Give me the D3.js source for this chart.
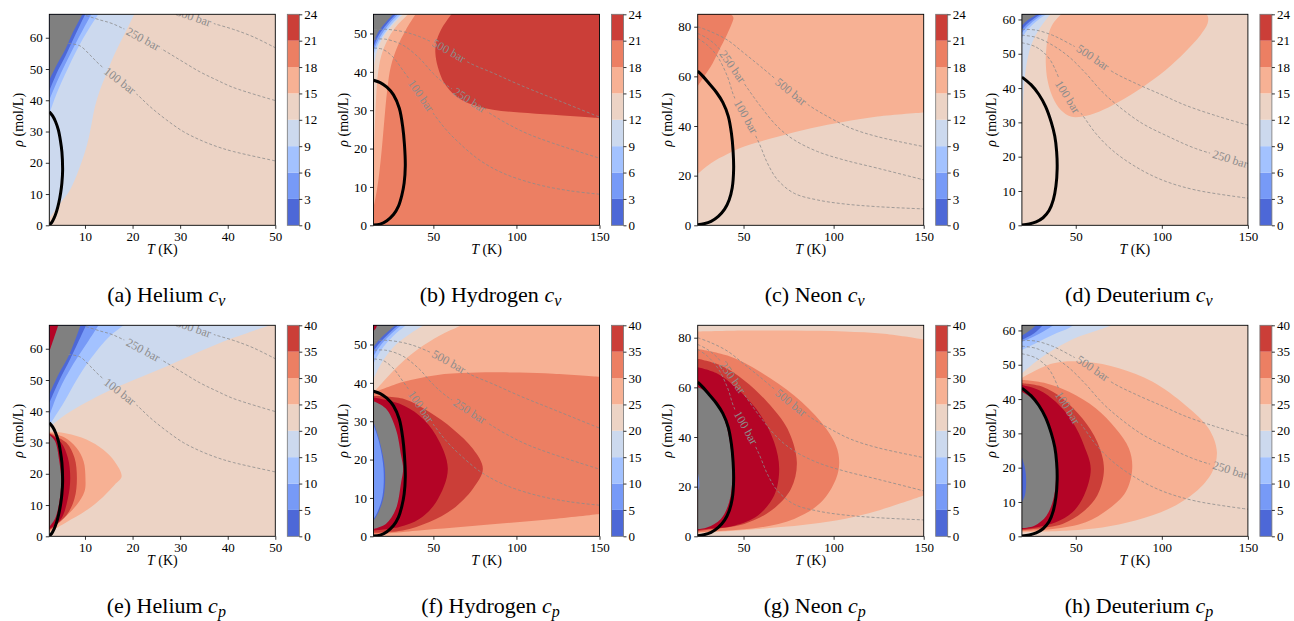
<!DOCTYPE html>
<html>
<head>
<meta charset="utf-8">
<script src="https://cdn.jsdelivr.net/npm/d3@7"></script>
<style>
  body { margin: 0; background: #fff; }
  svg text { font-family: "Liberation Serif", "Times New Roman", serif; }
</style>
</head>
<body>
<svg id="fig" width="1294" height="621"></svg>
<script>
// ---------------- data ----------------
const levelsCv = [0, 3, 6, 9, 12, 15, 18, 21, 24];
const levelsCp = [0, 5, 10, 15, 20, 25, 30, 35, 40];

// Moreland cool-warm colormap table: [t, r, g, b]
const coolwarmStops = [
  [0.0,59,76,192],[0.03125,68,90,204],[0.0625,77,104,215],[0.09375,87,117,225],
  [0.125,98,130,234],[0.15625,108,142,241],[0.1875,119,154,247],[0.21875,130,165,251],
  [0.25,141,176,254],[0.28125,152,185,255],[0.3125,163,194,255],[0.34375,174,201,253],
  [0.375,184,208,249],[0.40625,194,213,244],[0.4375,204,217,238],[0.46875,213,219,230],
  [0.5,221,221,221],[0.53125,229,216,209],[0.5625,236,211,197],[0.59375,241,204,185],
  [0.625,245,196,173],[0.65625,247,187,160],[0.6875,247,177,148],[0.71875,247,166,135],
  [0.75,244,154,123],[0.78125,241,141,111],[0.8125,236,127,99],[0.84375,229,112,88],
  [0.875,222,96,77],[0.90625,213,80,66],[0.9375,203,62,56],[0.96875,192,40,47],[1.0,180,4,38]
];

const gasNames = ["Helium", "Hydrogen", "Neon", "Deuterium"];
const captionLetters = [["a", "b", "c", "d"], ["e", "f", "g", "h"]];
const propertySubscripts = ["v", "p"];
const tempDomains = [[2.5, 50], [13.96, 150], [24.56, 150], [18.72, 150]];
const densityDomains = [[0, 67.5], [0, 55], [0, 85], [0, 61.5]];
const tempTicks = [[10, 20, 30, 40, 50], [50, 100, 150], [50, 100, 150], [50, 100, 150]];
const densityTicks = [[0, 10, 20, 30, 40, 50, 60], [0, 10, 20, 30, 40, 50], [0, 20, 40, 60, 80], [0, 10, 20, 30, 40, 50, 60]];

// band index: 0..7 = contour bins, -1 = grey (no data), 8 = above top level
const cvBaseBand = [4, 6, 4, 4];
const cpBaseBand = [4, 5, 4, 4];

// saturation domes [T (K), rho (mol/L)]
const heliumDome = [[2.5,0.2],[3.0,0.9],[3.5,2.3],[4.0,4.3],[4.5,7.2],[4.9,10.5],[5.15,13.6],[5.3,17.5],[5.15,23.5],[4.85,27],[4.4,30.5],[3.8,33.2],[3.2,35],[2.5,36.3]];
const hydrogenDome = [[13.96,0.05],[18,0.3],[22,1.2],[26,2.8],[29,5],[31,7.8],[32.4,11],[33.1,15.5],[32.6,21],[31.6,25.5],[29.5,30.5],[26,34],[22,36],[18,37.2],[13.96,37.8]];
const neonDome = [[24.56,0.2],[28,0.6],[32,1.6],[36,3.6],[39.5,6.5],[42,10.2],[43.7,15],[44.5,22.5],[44.2,30],[43.3,37],[41.5,44],[38.5,49.5],[35,53.5],[31,57],[27.5,60],[24.56,62.1]];
const deuteriumDome = [[18.72,0.1],[23,0.4],[27,1],[31,2.2],[34.5,4.3],[37,7.5],[38.5,11.5],[39.2,16.5],[38.9,21.5],[37.8,26],[35.8,30],[32.5,34.6],[28.5,38.2],[24,41],[18.72,43.2]];

// isobars: label, label position (T), points [T, rho]
const heliumIsobars = [
  {label: "100 bar", at: 17.3, pts: [[6.5,58.2],[8.95,57.4],[11.05,54.5],[13.15,51.3],[17.3,46.3],[20.85,42.0],[23.65,38.0],[27.15,33.7],[30.65,30.0],[34.2,27.3],[37.7,25.2],[41.2,23.6],[50,20.6]]},
  {label: "250 bar", at: 22.2, pts: [[10.2,67.1],[13.15,65.7],[15.95,64.4],[22.2,59.6],[26.45,56.1],[29.95,52.9],[34.15,49.1],[37.65,46.5],[41.15,44.1],[50,39.9]]},
  {label: "500 bar", at: 32.8, pts: [[27,70.2],[30,68.2],[32.8,66.6],[36.95,64.6],[41.15,62.7],[45.35,60.3],[50,56.8]]}
];
const hydrogenIsobars = [
  {label: "100 bar", at: 42.5, pts: [[14.3,46.2],[19.4,45.9],[25.4,44],[31.5,40.5],[42.5,33.8],[50.6,28.8],[57.7,24.9],[65.7,21.4],[77.8,17],[91.9,13.6],[112,10.7],[132,9.0],[150,8.1]]},
  {label: "250 bar", at: 71.8, pts: [[14.3,48.5],[21.4,48.5],[31.5,47],[41.5,43.6],[49.6,39.7],[57.7,36.6],[71.8,32.6],[83.9,29.2],[94,26.6],[106,24],[122,21.4],[150,17.5]]},
  {label: "500 bar", at: 59.3, pts: [[14.3,51],[21.4,51.1],[31.5,50.5],[41.5,49.2],[59.3,45.5],[71.8,42.3],[85.9,39.7],[102,36.6],[122,33.1],[150,28.2]]}
];
const neonIsobars = [
  {label: "500 bar", at: 76.3, pts: [[24.56,80],[31.9,78],[41.1,74.6],[50.4,69.3],[59.6,63.9],[76.3,53.8],[87.4,47.8],[98.5,43.1],[109.6,39.1],[124.4,35.7],[150,31.7]]},
  {label: "250 bar", at: 43.9, pts: [[24.56,77.3],[29.9,75.3],[35.6,71.9],[43.9,63.9],[52.2,55.2],[59.6,47.8],[68.9,39.7],[78.1,34.4],[91.1,29.7],[105.9,26.3],[124.4,23],[150,18.3]]},
  {label: "100 bar", at: 51.3, pts: [[24.56,75.3],[29.9,72.6],[35.6,67.9],[41.1,59.9],[44.8,51.8],[51.3,43.8],[58.7,33],[63.3,25],[68.9,18.3],[78.1,12.9],[91.1,10.2],[105.9,8.6],[124.4,7.5],[150,6.6]]}
];
const deuteriumIsobars = [
  {label: "500 bar", at: 60, pts: [[18.72,57.1],[26.8,56.9],[36.5,55.4],[46.1,53],[60,48.9],[71.2,44.8],[84.7,41.4],[100.2,38],[113.7,35],[133,31.7],[150,29.2]]},
  {label: "250 bar", at: 139.8, pts: [[18.72,55.4],[26.8,54.8],[36.5,52.5],[46.1,49.1],[55.8,44.3],[65.4,38.9],[75.1,34.6],[88.6,29.7],[104.1,25.8],[119.5,22.4],[139.8,19.3],[150,17.6]]},
  {label: "100 bar", at: 45.2, pts: [[18.72,53.2],[26.8,52],[34.6,48.6],[45.2,37.5],[53.9,32.1],[61.6,26.8],[71.2,21.9],[84.7,17.1],[100.2,13.2],[119.5,10.3],[150,7.9]]}
];

// filled contour bands: each region is a list of boundary pieces [T, rho]
const heliumCvRegions = [
  {band: 3, pieces: [[[2.5,2.2],[4.75,7.0],[6.85,11.3],[8.95,18.8],[10.5,26.2],[11.4,32.6],[12.1,38.0],[13.15,43.3],[14.55,48.6],[16.3,55.0],[18.4,61.4],[20.5,68]], [[2.5,68]]]},
  {band: 2, pieces: [[[2.5,35.5],[4.0,42],[6.5,50.5],[9.5,59.5],[13,68]], [[2.5,68]]]},
  {band: 1, pieces: [[[2.5,40],[4.0,45.5],[6.0,52],[8.5,59.5],[11.5,68]], [[2.5,68]]]},
  {band: 0, pieces: [[[2.5,43],[4.0,48.5],[6.0,54.5],[8.0,61],[10.2,68]], [[2.5,68]]]},
  {band: -1, pieces: [[[2.5,46.5],[4.05,51.3],[5.8,56.1],[7.2,60.9],[9.65,68]], [[2.5,68]]]}
];
const hydrogenCvRegions = [
  {band: 7, pieces: [[[61.7,55.5],[54.6,51.0],[51.6,47.5],[51.2,44.9],[52.6,41.4],[56.65,37.0],[63.7,33.6],[73.8,31.4],[85.9,30.1],[102,29.4],[122.2,28.8],[150,27.9]], [[150,55.5]]]},
  {band: 5, pieces: [[[13.96,4.5],[16.3,10],[18.3,17],[19.8,24],[21,30],[22.4,36],[24.4,41.4],[28.4,46.6],[33.5,51],[40,55.5]], [[13.96,55.5]]]},
  {band: 4, pieces: [[[13.96,17],[14.8,26],[15.5,33],[16.5,39],[18.5,44],[22,48],[27,51.5],[36,55.5]], [[13.96,55.5]]]},
  {band: 3, pieces: [[[13.96,40.5],[15.5,44.5],[19,48.5],[25,52],[33,55.5]], [[13.96,55.5]]]},
  {band: 2, pieces: [[[13.96,44.5],[18,48.3],[24,52],[31.5,55.5]], [[13.96,55.5]]]},
  {band: 1, pieces: [[[13.96,45.5],[17.5,48.8],[23,52.3],[30,55.5]], [[13.96,55.5]]]},
  {band: 0, pieces: [[[13.96,46.5],[17,49.5],[22,52.5],[28.5,55.5]], [[13.96,55.5]]]},
  {band: -1, pieces: [[[13.96,47.6],[17,50.5],[21.5,53],[27,55.5]], [[13.96,55.5]]]}
];
const neonCvRegions = [
  {band: 5, pieces: [[[24.56,20.7],[31.9,25],[41.1,28.7],[50.4,31.7],[68.9,35.7],[87.4,39.1],[105.9,41.7],[124.4,43.8],[150,45.4]], [[150,86]], [[24.56,86]]]},
  {band: 6, pieces: [[[24.56,56.1],[28.1,59.9],[32.8,65.2],[37.4,71.9],[41.1,77.3],[43.5,81.3],[44.4,83.6],[43.6,84.6],[41.5,85.5]], [[24.56,86]]]}
];
const deuteriumCvRegions = [
  {band: 5, pieces: [[[42.3,61.9],[37.5,59.3],[34.6,56.4],[33,52],[32.6,47.2],[33.6,42.3],[36.5,37.5],[41.3,33.6],[47.1,31.7],[53.9,31.7],[63.5,33.1],[75.1,36],[88.6,40.2],[102.1,45.2],[113.7,50.6],[122.4,55.4],[126.6,58.8],[126.8,60.8],[125.3,61.9]]]},
  {band: 3, pieces: [[[18.72,31],[19.6,38],[20.6,44],[22,48.5],[24.5,53],[28.5,57],[36,62]], [[18.72,62]]]},
  {band: 2, pieces: [[[18.72,54.5],[22,57],[29,60.2],[35,62]], [[18.72,62]]]},
  {band: 1, pieces: [[[18.72,56],[22,58],[28,60.5],[33,62]], [[18.72,62]]]},
  {band: 0, pieces: [[[18.72,57],[22,58.8],[27,60.7],[31,62]], [[18.72,62]]]},
  {band: -1, pieces: [[[18.72,58.3],[22,59.8],[26,61],[29,62]], [[18.72,62]]]}
];

const heliumCpRegions = [
  {band: 3, pieces: [[[2.5,34.8],[6.1,39.1],[10.3,42.9],[14.5,46.2],[20.1,49.9],[27.1,54.3],[34.1,59.1],[41.2,63.5],[50,68.1]], [[2.5,70]]]},
  {band: 2, pieces: [[[2.5,35.5],[5.4,42.4],[8.2,49.9],[11,56.4],[15.2,64],[18.7,68.1]], [[2.5,70]]]},
  {band: 1, pieces: [[[2.5,38.5],[4.5,46.5],[7.5,55],[10.5,62],[13.1,68.1]], [[2.5,70]]]},
  {band: 0, pieces: [[[2.5,42.6],[4.5,49.5],[7,57],[10.4,68.1]], [[2.5,70]]]},
  {band: -1, pieces: [[[2.5,45.5],[4.5,52],[6.8,58.5],[9.2,68.1]], [[2.5,70]]]},
  {band: 8, pieces: [[[2.5,59.1],[3.5,63.5],[4.5,68.1]], [[2.5,70]]]},
  {band: 5, pieces: [[[2.5,1.3],[6.1,4.5],[10.3,8.3],[13.8,12.6],[16.2,16.4],[17.7,19.1],[16.2,24],[13.8,27.8],[10.3,31],[6.1,32.9],[2.5,33.5]]]},
  {band: 6, pieces: [[[2.5,1.6],[5.4,5.6],[8.2,9.9],[9.9,14.3],[10.1,18.6],[9.7,24],[8.2,28.3],[5.7,31.6],[2.5,33.2]]]},
  {band: 7, pieces: [[[2.5,1.9],[6.1,6.7],[7.8,12.1],[8.3,18.6],[7.8,25.1],[6.1,29.9],[2.5,33]]]},
  {band: 8, pieces: [[[2.5,2.2],[5,5.6],[6.4,12.1],[6.9,18.6],[6.4,25.1],[5,29.9],[2.5,32.8]]]},
  {band: -1, pieces: [[[2.5,3.0],[3.7,5.6],[4.6,11],[5.0,17.6],[4.6,24],[3.7,30.5],[2.5,32.5]]]}
];
const hydrogenCpRegions = [
  {band: 6, pieces: [[[13.96,37.4],[31.5,40.2],[51.6,42],[71.8,42.6],[102,42.7],[122.2,42.4],[150,41.6]], [[150,5.8],[122.2,4.5],[81.9,3.0],[41.5,1.5],[13.96,0.4]]]},
  {band: 4, pieces: [[[13.96,37.5],[21.4,41.1],[31.5,45.5],[41.5,49],[53.6,52.3],[69.8,55.5]], [[13.96,56]]]},
  {band: 3, pieces: [[[13.96,41],[19,45.3],[27,49.8],[36,52.8],[46,55.5]], [[13.96,56]]]},
  {band: 2, pieces: [[[13.96,45],[18.5,48.5],[26,52.3],[35,55.5]], [[13.96,56]]]},
  {band: 1, pieces: [[[13.96,47],[18,49.7],[25,52.9],[32,55.5]], [[13.96,56]]]},
  {band: 0, pieces: [[[13.96,48.3],[18,50.6],[24,53.2],[30,55.5]], [[13.96,56]]]},
  {band: -1, pieces: [[[13.96,49.4],[18,51.5],[23,53.5],[28.4,55.5]], [[13.96,56]]]},
  {band: 8, pieces: [[[13.96,53.5],[15.5,54.3],[16.5,55.5]], [[13.96,56]]]},
  {band: 7, pieces: [[[13.96,0.9],[31.5,1.5],[47.6,3.7],[61.7,7.1],[73.8,12.4],[79.8,17.6],[73.8,22.8],[61.7,28],[47.6,32.4],[31.5,35.9],[13.96,36.6]]]},
  {band: 8, pieces: [[[13.96,1.5],[29.4,2.4],[41.5,4.5],[51.6,8.9],[58.7,17.6],[51.6,26.3],[41.5,31.5],[29.4,34.6],[13.96,36.2]]]},
  {band: -1, pieces: [[[13.96,1.9],[21.4,3.2],[27.4,7.1],[30.6,14.1],[31.8,17.6],[30.6,21],[27.4,28],[21.4,33.3],[13.96,35.2]]]},
  {band: 0, pieces: [[[13.96,29.8],[17.8,24.6],[20.8,17.6],[20.2,10.6],[17,6.3],[13.96,4.1]]]},
  {band: 1, pieces: [[[13.96,29],[17.3,24.6],[20,17.6],[19.4,10.6],[16.3,6.3],[13.96,4.5]]]}
];
const neonCpRegions = [
  {band: 5, pieces: [[[24.56,82.5],[50.4,82.9],[78.1,82.9],[105.9,82.5],[128.1,81.6],[150,79.3]], [[150,16.4],[124.4,10.3],[105.9,7],[87.4,5],[68.9,3.6],[50.4,2.5],[24.56,1.2]]]},
  {band: 6, pieces: [[[24.56,75.5],[41.1,72.8],[59.6,66.1],[78.1,56.7],[93,46],[101.3,36.6],[103.1,29.8],[101.3,23.1],[93,13.7],[78.1,7],[59.6,3.6],[41.1,2.3],[24.56,1.6]]]},
  {band: 7, pieces: [[[24.56,71.5],[37.4,68.8],[50.4,62.8],[63.3,54],[74.4,43.3],[79.6,29.8],[76.3,19.1],[65.2,10.3],[50.4,5],[31.9,2.8],[24.56,2.0]]]},
  {band: 8, pieces: [[[24.56,68.1],[35.6,65.5],[48.5,58.1],[59.6,48.7],[67,37.9],[69.8,27.2],[67,16.4],[57.8,8.3],[44.8,4.3],[31.9,3.1],[24.56,2.4]]]},
  {band: -1, pieces: [[[24.56,60.1],[31.9,56.7],[39.3,47.3],[43,35.2],[43.9,24.5],[42,13.7],[37.4,7],[30,3.6],[24.56,2.8]]]},
  {band: 1, pieces: [[[24.56,25.8],[25.3,23],[25.3,19.5],[24.56,18.5]]]}
];
const deuteriumCpRegions = [
  {band: 3, pieces: [[[18.72,47.5],[26.8,50.9],[38.4,54.8],[51.9,58.2],[65.4,60.5],[73.2,62]], [[18.72,62.5]]]},
  {band: 2, pieces: [[[18.72,54.3],[26.8,56.3],[36.5,58.7],[46.1,60.7],[50,62]], [[18.72,62.5]]]},
  {band: 1, pieces: [[[18.72,56.6],[26.8,58.5],[34.6,60.7],[38.4,62]], [[18.72,62.5]]]},
  {band: 0, pieces: [[[18.72,57.3],[25.9,59.2],[31.7,62]], [[18.72,62.5]]]},
  {band: -1, pieces: [[[18.72,58.5],[23.9,60.2],[27.8,62]], [[18.72,62.5]]]},
  {band: 5, pieces: [[[18.72,46.2],[36.5,50.4],[55.8,50.9],[75.1,49],[94.4,45.1],[113.7,38.2],[127.2,31.4],[132,24.6],[129.2,18.7],[119.5,12.9],[104.1,8],[84.7,4.6],[65.4,2.6],[46.1,1.7],[18.72,1.2]]]},
  {band: 6, pieces: [[[18.72,45.6],[32.6,44.6],[46.1,42.1],[61.6,37.3],[73.2,31.4],[80.9,25.6],[82.8,19.7],[79,12.9],[69.3,8],[55.8,4.1],[36.5,2.1],[18.72,1.5]]]},
  {band: 7, pieces: [[[18.72,44.6],[30.7,43.6],[42.3,40.2],[53.9,34.3],[62.5,27.5],[66.4,19.7],[62.5,11.9],[53.9,7],[42.3,3.6],[26.8,2.2],[18.72,1.8]]]},
  {band: 8, pieces: [[[18.72,44.1],[28.8,42.6],[38.4,39.2],[48.1,33.4],[54.8,26.5],[58.7,19.7],[54.8,11.9],[48.1,7],[38.4,4.1],[26.8,2.6],[18.72,2.1]]]},
  {band: -1, pieces: [[[18.72,42.1],[26.8,39.2],[33.6,33.4],[37.5,25.6],[38.5,19.7],[37.5,11.9],[33,6],[26,3.1],[18.72,2.4]]]},
  {band: 0, pieces: [[[18.72,23],[20.5,20],[21.2,16],[20.5,12],[18.72,10]]]}
];

const domes = [heliumDome, hydrogenDome, neonDome, deuteriumDome];
const isobars = [heliumIsobars, hydrogenIsobars, neonIsobars, deuteriumIsobars];
const cvRegions = [heliumCvRegions, hydrogenCvRegions, neonCvRegions, deuteriumCvRegions];
const cpRegions = [heliumCpRegions, hydrogenCpRegions, neonCpRegions, deuteriumCpRegions];

// ---------------- layout ----------------
const W = 1294, H = 621;
const plotW = 226, plotH = 211;
const colX = c => 49.3 + c * 324.2;
const rowY = r => 14.3 + r * 311;
const cbGap = 12, cbW = 12;

const svg = d3.select("#fig");
const defs = svg.append("defs");

const coolwarm = d3.scaleLinear()
  .domain(coolwarmStops.map(d => d[0]))
  .range(coolwarmStops.map(d => d3.rgb(d[1], d[2], d[3])))
  .interpolate(d3.interpolateRgb);
const bandColor = b => b < 0 ? "#808080" : (b >= 8 ? coolwarm(1) : coolwarm((b + 0.5) / 8));

function regionPath(pieces, x, y) {
  const line = d3.line().x(d => x(d[0])).y(d => y(d[1])).curve(d3.curveCatmullRom.alpha(0.5));
  let s = "";
  pieces.forEach((p, i) => {
    let seg;
    if (p.length === 1) seg = "M" + x(p[0][0]) + "," + y(p[0][1]);
    else seg = line(p).replace(/Z$/, "");
    s += (i === 0 ? seg : "L" + seg.slice(1));
  });
  return s + "Z";
}

function styleAxis(g) {
  g.select(".domain").remove();
  g.selectAll(".tick line").attr("stroke", "#000").attr("stroke-width", 0.8);
  g.selectAll(".tick text").attr("fill", "#000").style("font-size", "13px")
    .style("font-family", '"Liberation Serif", "Times New Roman", serif');
}

function drawPanel(row, col) {
  const left = colX(col), top = rowY(row);
  const id = "p" + row + col;
  const x = d3.scaleLinear().domain(tempDomains[col]).range([left, left + plotW]);
  const y = d3.scaleLinear().domain(densityDomains[col]).range([top + plotH, top]);
  const regions = row === 0 ? cvRegions[col] : cpRegions[col];
  const base = row === 0 ? cvBaseBand[col] : cpBaseBand[col];
  const levels = row === 0 ? levelsCv : levelsCp;

  defs.append("clipPath").attr("id", id + "clip")
    .append("rect").attr("x", left).attr("y", top).attr("width", plotW).attr("height", plotH);

  const g = svg.append("g").attr("clip-path", `url(#${id}clip)`);
  g.append("rect").attr("x", left).attr("y", top).attr("width", plotW).attr("height", plotH)
    .attr("fill", bandColor(base));

  regions.forEach(reg => {
    g.append("path").attr("d", regionPath(reg.pieces, x, y)).attr("fill", bandColor(reg.band));
  });

  // isobars with inline labels
  const lineGen = d3.line().x(d => x(d[0])).y(d => y(d[1])).curve(d3.curveCatmullRom.alpha(0.5));
  const mask = defs.append("mask").attr("id", id + "mask").attr("maskUnits", "userSpaceOnUse")
    .attr("x", 0).attr("y", 0).attr("width", W).attr("height", H);
  mask.append("rect").attr("width", W).attr("height", H).attr("fill", "white");
  const isoG = g.append("g").attr("mask", `url(#${id}mask)`);
  const labG = g.append("g");
  isobars[col].forEach(iso => {
    const path = isoG.append("path").attr("d", lineGen(iso.pts))
      .attr("fill", "none").attr("stroke", "#8c8c8c").attr("stroke-width", 0.8)
      .attr("stroke-dasharray", "3,2");
    const node = path.node();
    const L = node.getTotalLength();
    const tx = x(iso.at);
    let best = 0, bd = Infinity;
    for (let s = 0; s <= L; s += 0.5) {
      const p = node.getPointAtLength(s);
      const d = Math.abs(p.x - tx);
      if (d < bd) { bd = d; best = s; }
    }
    const p = node.getPointAtLength(best);
    const p1 = node.getPointAtLength(Math.max(0, best - 10));
    const p2 = node.getPointAtLength(Math.min(L, best + 10));
    const ang = Math.atan2(p2.y - p1.y, p2.x - p1.x) * 180 / Math.PI;
    const tr = `translate(${p.x},${p.y}) rotate(${ang})`;
    const t = labG.append("text").attr("transform", tr).attr("text-anchor", "middle")
      .attr("dy", "0.33em").attr("fill", "#8c8c8c").style("font-size", "12px").text(iso.label);
    const tw = t.node().getComputedTextLength();
    mask.append("rect").attr("x", -tw / 2 - 3).attr("y", -5).attr("width", tw + 6).attr("height", 10)
      .attr("transform", tr).attr("fill", "black");
  });

  // saturation dome
  g.append("path").attr("d", lineGen(domes[col])).attr("fill", "none")
    .attr("stroke", "#000").attr("stroke-width", 3);

  // frame
  svg.append("rect").attr("x", left).attr("y", top).attr("width", plotW).attr("height", plotH)
    .attr("fill", "none").attr("stroke", "#000").attr("stroke-width", 0.9);

  // axes
  svg.append("g").attr("transform", `translate(0,${top + plotH})`)
    .call(d3.axisBottom(x).tickValues(tempTicks[col]).tickSize(3.5).tickPadding(3).tickFormat(d3.format("d")))
    .call(styleAxis);
  svg.append("g").attr("transform", `translate(${left},0)`)
    .call(d3.axisLeft(y).tickValues(densityTicks[col]).tickSize(3.5).tickPadding(3).tickFormat(d3.format("d")))
    .call(styleAxis);

  // axis labels
  const xl = svg.append("text").attr("x", left + plotW / 2).attr("y", top + plotH + 29)
    .attr("text-anchor", "middle").style("font-size", "14px");
  xl.append("tspan").style("font-style", "italic").text("T");
  xl.append("tspan").text(" (K)");
  const yl = svg.append("text").attr("transform", `translate(${left - 26},${top + plotH / 2}) rotate(-90)`)
    .attr("text-anchor", "middle").style("font-size", "14px");
  yl.append("tspan").style("font-style", "italic").text("ρ");
  yl.append("tspan").text(" (mol/L)");

  // colorbar
  const cbx = left + plotW + cbGap;
  const cy = d3.scaleLinear().domain([levels[0], levels[levels.length - 1]]).range([top + plotH, top]);
  for (let i = 0; i < levels.length - 1; i++) {
    svg.append("rect").attr("x", cbx).attr("y", cy(levels[i + 1])).attr("width", cbW)
      .attr("height", cy(levels[i]) - cy(levels[i + 1])).attr("fill", bandColor(i));
  }
  svg.append("rect").attr("x", cbx).attr("y", top).attr("width", cbW).attr("height", plotH)
    .attr("fill", "none").attr("stroke", "#777").attr("stroke-width", 0.8);
  svg.append("g").attr("transform", `translate(${cbx + cbW},0)`)
    .call(d3.axisRight(cy).tickValues(levels).tickSize(3).tickPadding(2).tickFormat(d3.format("d")))
    .call(styleAxis);

  // caption
  const cap = svg.append("text").attr("x", left + plotW / 2 + 4).attr("y", top + 288)
    .attr("text-anchor", "middle").style("font-size", "22px");
  cap.append("tspan").text(`(${captionLetters[row][col]}) ${gasNames[col]} `);
  cap.append("tspan").style("font-style", "italic").text("c");
  cap.append("tspan").style("font-style", "italic").style("font-size", "16px").attr("dy", 4)
    .text(propertySubscripts[row]);
}

for (let r = 0; r < 2; r++) for (let c = 0; c < 4; c++) drawPanel(r, c);
</script>
</body>
</html>
